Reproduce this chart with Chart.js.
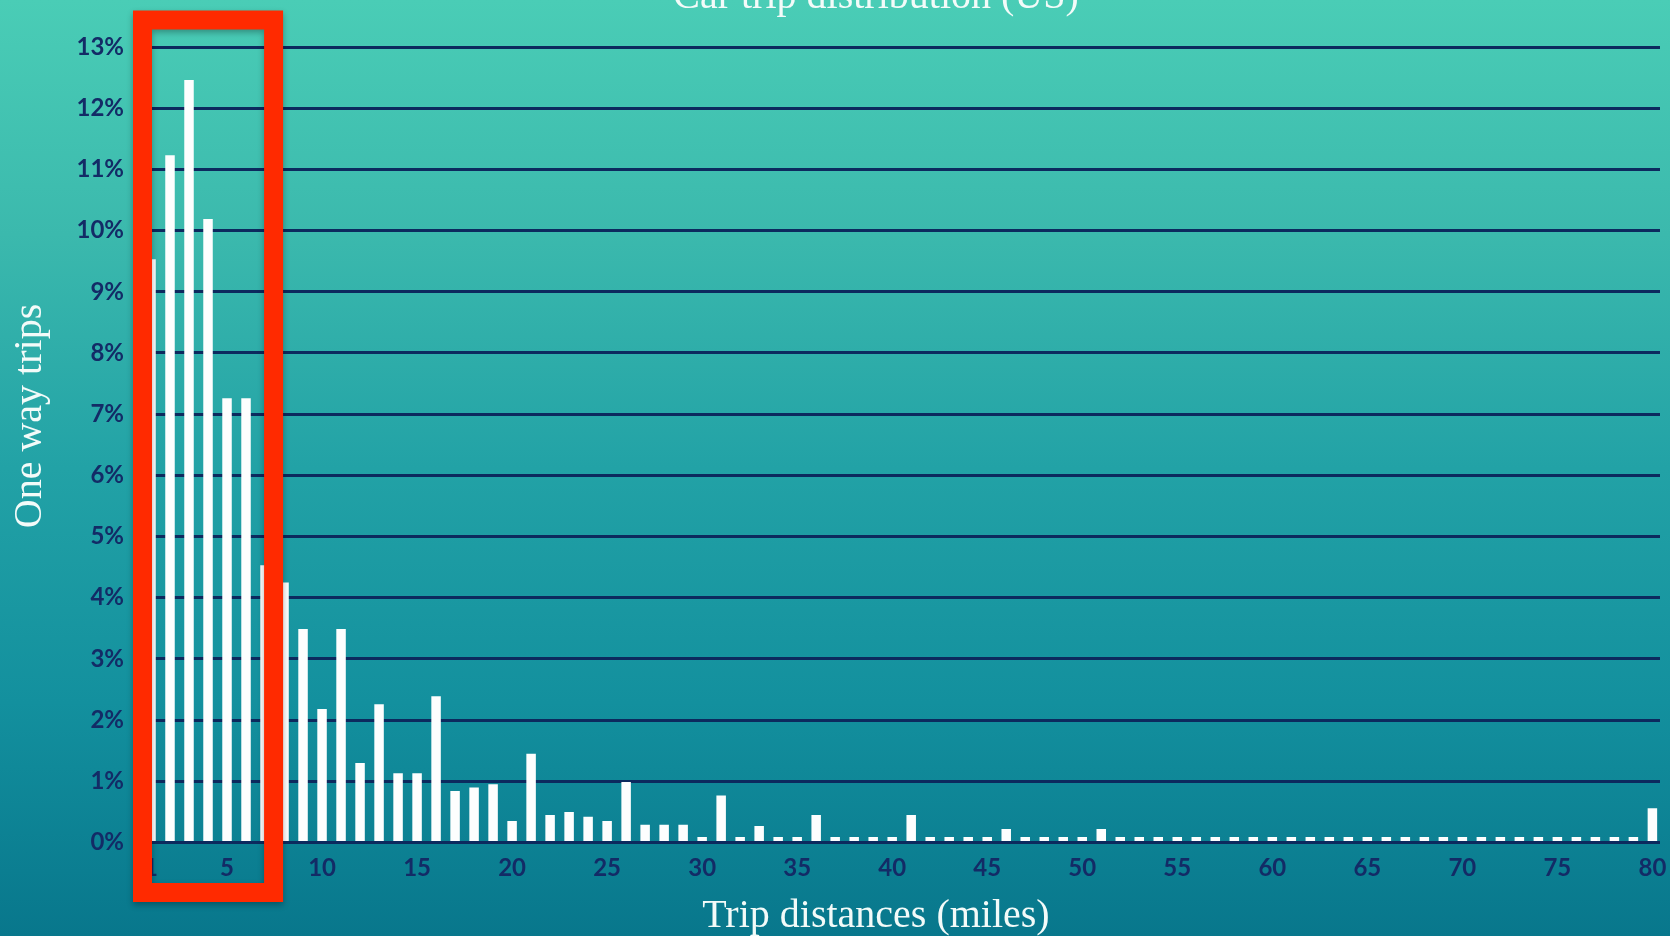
<!DOCTYPE html>
<html>
<head>
<meta charset="utf-8">
<title>Car trip distribution (US)</title>
<script src="https://cdn.jsdelivr.net/npm/chart.js@4.4.1/dist/chart.umd.min.js"></script>
<style>
  html, body {
    margin: 0;
    padding: 0;
    overflow: hidden;
  }
  body {
    width: 1670px;
    height: 936px;
    background: linear-gradient(to bottom, #4acdb6 0%, #3bb9ad 25%, #22a2a6 50%, #13909e 75%, #08778c 100%);
  }
  #wrap {
    position: relative;
    width: 1670px;
    height: 936px;
  }
</style>
</head>
<body>
<div id="wrap">
  <canvas id="tripChart" width="1670" height="936"></canvas>
</div>
<script>
// trip distance in miles (one bar per mile, 80 = 80+)
const distances = [
  1, 2, 3, 4, 5, 6, 7, 8, 9, 10,
  11, 12, 13, 14, 15, 16, 17, 18, 19, 20,
  21, 22, 23, 24, 25, 26, 27, 28, 29, 30,
  31, 32, 33, 34, 35, 36, 37, 38, 39, 40,
  41, 42, 43, 44, 45, 46, 47, 48, 49, 50,
  51, 52, 53, 54, 55, 56, 57, 58, 59, 60,
  61, 62, 63, 64, 65, 66, 67, 68, 69, 70,
  71, 72, 73, 74, 75, 76, 77, 78, 79, 80,
];

// share of one way trips (%)
const tripShare = [
  9.53, 11.23, 12.46, 10.19, 7.26, 7.26, 4.53, 4.25, 3.49, 2.18,
  3.49, 1.3, 2.26, 1.13, 1.13, 2.39, 0.84, 0.9, 0.95, 0.35,
  1.45, 0.45, 0.5, 0.42, 0.35, 0.99, 0.29, 0.29, 0.29, 0.09,
  0.77, 0.09, 0.27, 0.09, 0.09, 0.45, 0.09, 0.09, 0.09, 0.09,
  0.45, 0.09, 0.09, 0.09, 0.09, 0.22, 0.09, 0.09, 0.09, 0.09,
  0.22, 0.09, 0.09, 0.09, 0.09, 0.09, 0.09, 0.09, 0.09, 0.09,
  0.09, 0.09, 0.09, 0.09, 0.09, 0.09, 0.09, 0.09, 0.09, 0.09,
  0.09, 0.09, 0.09, 0.09, 0.09, 0.09, 0.09, 0.09, 0.09, 0.56,
];

const xTickValues = [1, 5, 10, 15, 20, 25, 30, 35, 40, 45, 50, 55, 60, 65, 70, 75, 80];
const yTickValues = [0, 1, 2, 3, 4, 5, 6, 7, 8, 9, 10, 11, 12, 13];

const chartTitle = "Car trip distribution (US)";
const xTitle = "Trip distances (miles)";
const yTitle = "One way trips";

// the red highlight box covers these distances
const highlightFrom = 1;
const highlightTo = 6.95;

const navy = "#132b66";
const serif = "'Liberation Serif', 'DejaVu Serif', serif";

const textPlugin = {
  id: "slideText",
  afterDraw(chart) {
    const ctx = chart.ctx;
    ctx.save();
    ctx.fillStyle = "#f3fbf9";
    ctx.font = "40px " + serif;
    ctx.textAlign = "center";
    ctx.textBaseline = "alphabetic";
    ctx.fillText(chartTitle, 876, 8);
    ctx.fillText(xTitle, 876, 927);

    ctx.translate(41, 416);
    ctx.rotate(-Math.PI / 2);
    ctx.fillText(yTitle, 0, 0);
    ctx.restore();
  },
};

const highlightPlugin = {
  id: "highlightBox",
  afterDraw(chart) {
    const ctx = chart.ctx;
    const x = chart.scales.x;
    const area = chart.chartArea;
    const bw = 19;
    const left = x.getPixelForValue(highlightFrom) + 1;
    const right = x.getPixelForValue(highlightTo);
    const top = area.top - 17.5;
    const bottom = area.bottom + 40.5;

    ctx.save();
    ctx.shadowColor = "rgba(0, 0, 0, 0.3)";
    ctx.shadowBlur = 6;
    ctx.shadowOffsetY = 3;
    ctx.strokeStyle = "#ff2a00";
    ctx.lineWidth = bw;
    ctx.strokeRect(
      left - bw / 2,
      top - bw / 2,
      right - left + bw,
      bottom - top + bw
    );
    ctx.restore();
  },
};

const ctx = document.getElementById("tripChart").getContext("2d");
new Chart(ctx, {
  type: "bar",
  data: {
    datasets: [
      {
        label: "One way trips",
        data: distances.map((d, i) => ({ x: d, y: tripShare[i] })),
        backgroundColor: "#fdfefe",
        borderWidth: 0,
        barPercentage: 0.5,
        categoryPercentage: 1,
      },
    ],
  },
  options: {
    responsive: false,
    animation: false,
    devicePixelRatio: 1,
    layout: {
      padding: { top: 47, right: 10, left: 0, bottom: 0 },
    },
    scales: {
      x: {
        type: "linear",
        offset: false,
        min: 1,
        max: 80.4,
        afterBuildTicks: (scale) => {
          scale.ticks = xTickValues.map((v) => ({ value: v }));
        },
        afterFit: (scale) => {
          scale.height = 93.5;
          // labels at the edges may overhang the plot
          scale.paddingLeft = 0;
          scale.paddingRight = 0;
        },
        grid: { display: false, drawTicks: false, offset: false },
        border: { display: false },
        ticks: {
          color: navy,
          font: { family: "Lato", weight: "bold", size: 24 },
          padding: 11,
          maxRotation: 0,
          autoSkip: false,
        },
      },
      y: {
        min: 0,
        max: 13,
        afterBuildTicks: (scale) => {
          scale.ticks = yTickValues.map((v) => ({ value: v }));
        },
        afterFit: (scale) => {
          scale.width = 151;
        },
        grid: {
          color: "#0c2a5e",
          lineWidth: 3,
          drawTicks: false,
        },
        border: { display: false },
        ticks: {
          color: navy,
          font: { family: "Lato", weight: "bold", size: 24 },
          padding: 27,
          callback: (value) => value + "%",
        },
      },
    },
    plugins: {
      legend: { display: false },
      tooltip: { enabled: false },
    },
  },
  plugins: [textPlugin, highlightPlugin],
});
</script>
</body>
</html>
